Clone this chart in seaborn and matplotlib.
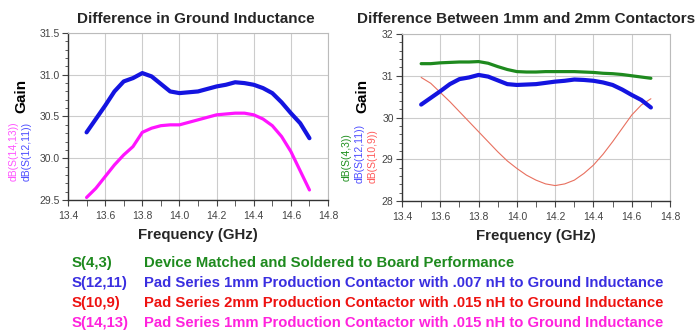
import matplotlib
matplotlib.use("Agg")
import matplotlib.pyplot as plt
import seaborn as sns
from matplotlib.ticker import MultipleLocator, FormatStrFormatter

sns.set_style('white')
plt.rcParams['font.family'] = ['Liberation Sans', 'DejaVu Sans']

# frequency points (GHz)
freq = [13.50, 13.55, 13.60, 13.65, 13.70, 13.75, 13.80, 13.85, 13.90, 13.95,
        14.00, 14.05, 14.10, 14.15, 14.20, 14.25, 14.30, 14.35, 14.40, 14.45,
        14.50, 14.55, 14.60, 14.65, 14.70]

# gain curves (dB)
s12_11 = [30.31, 30.47, 30.63, 30.80, 30.92, 30.96, 31.02, 30.98, 30.89, 30.80,
          30.78, 30.79, 30.80, 30.83, 30.86, 30.88, 30.91, 30.90, 30.88, 30.84,
          30.78, 30.67, 30.54, 30.42, 30.24]
s14_13 = [29.53, 29.64, 29.78, 29.92, 30.04, 30.14, 30.31, 30.36, 30.39, 30.40,
          30.40, 30.43, 30.46, 30.49, 30.52, 30.53, 30.54, 30.54, 30.52, 30.47,
          30.39, 30.26, 30.08, 29.85, 29.62]
s4_3 = [31.29, 31.29, 31.31, 31.32, 31.33, 31.33, 31.34, 31.30, 31.22, 31.15,
        31.10, 31.09, 31.09, 31.10, 31.10, 31.10, 31.10, 31.09, 31.08, 31.06,
        31.05, 31.03, 31.00, 30.97, 30.94]
s10_9 = [30.96, 30.82, 30.60, 30.38, 30.14, 29.90, 29.66, 29.42, 29.18, 28.96,
         28.78, 28.62, 28.50, 28.41, 28.37, 28.41, 28.50, 28.66, 28.86, 29.12,
         29.42, 29.74, 30.06, 30.30, 30.45]

legend_keys = ['S(4,3)', 'S(12,11)', 'S(10,9)', 'S(14,13)']
legend_text = ['Device Matched and Soldered to Board Performance',
               'Pad Series 1mm Production Contactor with .007 nH to Ground Inductance',
               'Pad Series 2mm Production Contactor with .015 nH to Ground Inductance',
               'Pad Series 1mm Production Contactor with .015 nH to Ground Inductance']
legend_colors = ['#1e8a1e', '#3a2ee0', '#ee1111', '#ff22dd']

BLUE = '#1414e0'
MAGENTA = '#ff14ff'
GREEN = '#1e8a1e'
RED = '#e8705f'

fig = plt.figure(figsize=(6.96, 3.31), dpi=100)
ax1 = fig.add_axes([0.0977, 0.3958, 0.3736, 0.5045])
ax2 = fig.add_axes([0.5776, 0.3927, 0.3851, 0.5045])


def style_axis(ax, ylo, yhi, ymaj, ymin, fmt):
    ax.set_xlim(13.4, 14.8)
    ax.set_ylim(ylo, yhi)
    ax.xaxis.set_major_locator(MultipleLocator(0.2))
    ax.xaxis.set_minor_locator(MultipleLocator(0.1))
    ax.yaxis.set_major_locator(MultipleLocator(ymaj))
    ax.yaxis.set_minor_locator(MultipleLocator(ymin))
    ax.xaxis.set_major_formatter(FormatStrFormatter('%.1f'))
    ax.yaxis.set_major_formatter(FormatStrFormatter(fmt))
    ax.grid(True, which='major', color='#cccccc', lw=0.8)
    ax.tick_params(which='major', direction='out', length=4, width=0.8,
                   color='#444444', labelsize=7.5, labelcolor='#444444',
                   left=True, bottom=True, pad=2)
    ax.tick_params(axis='x', which='major', pad=4)
    ax.tick_params(which='minor', direction='out', length=2.5, width=0.6,
                   color='#444444', left=True, bottom=True)
    ax.tick_params(axis='x', which='minor', length=4)
    for side in ['top', 'right']:
        ax.spines[side].set_color('#bbbbbb')
        ax.spines[side].set_linewidth(0.8)
    for side in ['left', 'bottom']:
        ax.spines[side].set_color('#333333')
        ax.spines[side].set_linewidth(1.0)
    ax.set_xlabel('Frequency (GHz)', fontsize=10.8, fontweight='bold', labelpad=5)
    ax.set_ylabel('')


# left panel
sns.lineplot(x=freq, y=s14_13, ax=ax1, color=MAGENTA, lw=2.3)
sns.lineplot(x=freq, y=s12_11, ax=ax1, color=BLUE, lw=3.0)
style_axis(ax1, 29.5, 31.5, 0.5, 0.1, '%.1f')

# right panel
sns.lineplot(x=freq, y=s10_9, ax=ax2, color=RED, lw=0.8)
sns.lineplot(x=freq, y=s4_3, ax=ax2, color=GREEN, lw=2.3)
sns.lineplot(x=freq, y=s12_11, ax=ax2, color=BLUE, lw=3.0)
style_axis(ax2, 28, 32, 1, 0.2, '%.0f')

# titles
fig.text(196 / 696, 1 - 19 / 331, 'Difference in Ground Inductance',
         ha='center', va='center', fontsize=11, fontweight='bold')
fig.text(526 / 696, 1 - 19 / 331, 'Difference Between 1mm and 2mm Contactors',
         ha='center', va='center', fontsize=11, fontweight='bold')

# y labels
def ylab(x, y, s, color, size, weight='normal'):
    fig.text(x / 696, 1 - y / 331, s, rotation=90, ha='center', va='bottom',
             color=color, fontsize=size, fontweight=weight)

ylab(21, 113, 'Gain', 'black', 11, 'bold')
ylab(14, 181, 'dB(S(14,13))', '#ff55ff', 7.5)
ylab(27, 181, 'dB(S(12,11))', '#4d4dff', 7.5)

ylab(362, 113, 'Gain', 'black', 11, 'bold')
ylab(347, 181, 'dB(S(4,3))', '#209020', 7.5)
ylab(360, 183, 'dB(S(12,11))', '#4d4dff', 7.5)
ylab(373, 183, 'dB(S(10,9))', '#ff5a5a', 7.5)

# legend block below the charts
rows_y = [263, 283, 303, 323]
for key, txt, col, yy in zip(legend_keys, legend_text, legend_colors, rows_y):
    fig.text(72 / 696, 1 - yy / 331, key, ha='left', va='center',
             color=col, fontsize=10.7, fontweight='bold')
    fig.text(144 / 696, 1 - yy / 331, txt, ha='left', va='center',
             color=col, fontsize=10.7, fontweight='bold')

plt.savefig('out.png', dpi=100)
